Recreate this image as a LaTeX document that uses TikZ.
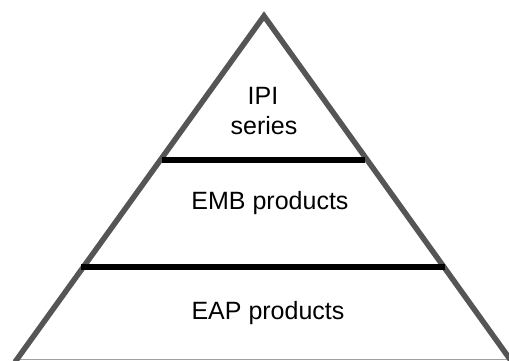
\documentclass[tikz,border=0pt]{standalone}
\usepackage{fontspec}
\setmainfont{Liberation Sans}
\begin{document}
\begin{tikzpicture}[x=1pt,y=-1pt,
  side/.style={draw={rgb,255:red,85;green,85;blue,85},line width=5.5pt,line join=miter},
  layer/.style={draw=black,line width=6pt},
  baseline/.style={draw={rgb,255:red,160;green,160;blue,160},line width=1pt},
  lbl/.style={anchor=base,inner sep=0pt,font=\fontsize{25}{29}\selectfont}]
\useasboundingbox (0,0) rectangle (509,361);
\coordinate (apex) at (264,16);
\coordinate (bl) at (15,362);
\coordinate (br) at (512,362);
\draw[baseline] (16,359.5) -- (509,359.5);
\draw[side] (bl) -- (apex) -- (br);
\coordinate (l1a) at (162,159.5);
\coordinate (l1b) at (365,159.5);
\coordinate (l2a) at (81,266.5);
\coordinate (l2b) at (445,266.5);
\draw[layer] (l1a) -- (l1b);
\draw[layer] (l2a) -- (l2b);
\node[lbl] (ipi) at (263,105) {IPI};
\node[lbl] (series) at (264,135) {series};
\node[lbl] (emb) at (270,209) {EMB products};
\node[lbl] (eap) at (268,319) {EAP products};
\end{tikzpicture}
\end{document}
